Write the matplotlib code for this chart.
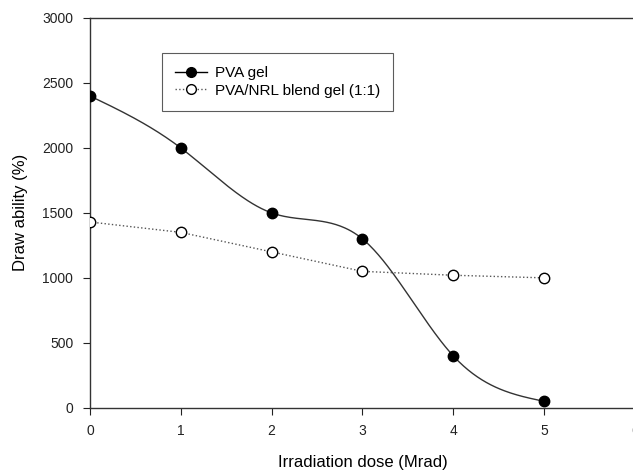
import numpy as np
import matplotlib.pyplot as plt

plt.rcParams['font.family'] = ['Liberation Sans', 'DejaVu Sans']

# Data
dose = [0, 1, 2, 3, 4, 5]
pva_gel = [2400, 2000, 1500, 1300, 400, 50]
blend_gel = [1430, 1350, 1200, 1050, 1020, 1000]


def natural_spline(x, y, n=300):
    # natural cubic spline through the points, for the smooth curve
    x = np.asarray(x, float)
    y = np.asarray(y, float)
    k = len(x)
    h = np.diff(x)
    A = np.zeros((k, k))
    b = np.zeros(k)
    A[0, 0] = A[-1, -1] = 1
    for i in range(1, k - 1):
        A[i, i - 1] = h[i - 1]
        A[i, i] = 2 * (h[i - 1] + h[i])
        A[i, i + 1] = h[i]
        b[i] = 6 * ((y[i + 1] - y[i]) / h[i] - (y[i] - y[i - 1]) / h[i - 1])
    m = np.linalg.solve(A, b)
    xs = np.linspace(x[0], x[-1], n)
    idx = np.clip(np.searchsorted(x, xs) - 1, 0, k - 2)
    x0, x1 = x[idx], x[idx + 1]
    hh = x1 - x0
    t0, t1 = x1 - xs, xs - x0
    ys = (m[idx] * t0**3 + m[idx + 1] * t1**3) / (6 * hh) \
        + (y[idx] / hh - m[idx] * hh / 6) * t0 \
        + (y[idx + 1] / hh - m[idx + 1] * hh / 6) * t1
    return xs, ys


fig = plt.figure(figsize=(6.33, 4.72), dpi=100)
ax = fig.add_axes([0.142, 0.136, 0.861, 0.826])

xs, ys = natural_spline(dose, pva_gel)
ax.plot(xs, ys, color='#333333', lw=1.0, zorder=2)
ax.plot(dose, pva_gel, 'o', color='black', ms=7.5, zorder=3)
ax.plot(dose, blend_gel, ':', color='#555555', lw=1.0, zorder=2)
ax.plot(dose, blend_gel, 'o', mfc='white', mec='black', mew=1.0, ms=7.5, zorder=3)

# legend handles
h1, = ax.plot([], [], '-o', color='black', lw=1.0, ms=7, label='PVA gel')
h2, = ax.plot([], [], ':o', color='#555555', lw=1.0, ms=7, mfc='white',
              mec='black', label='PVA/NRL blend gel (1:1)')
leg = ax.legend(handles=[h1, h2], loc='upper left', bbox_to_anchor=(0.132, 0.91),
                borderaxespad=0, fontsize=11, frameon=True, fancybox=False,
                edgecolor='#333333', handlelength=2.1, handletextpad=0.5,
                borderpad=0.85, labelspacing=0.25)
leg.get_frame().set_linewidth(0.8)

ax.set_xlim(0, 6)
ax.set_ylim(0, 3000)
ax.set_xticks([0, 1, 2, 3, 4, 5, 6])
ax.set_yticks([0, 500, 1000, 1500, 2000, 2500, 3000])
ax.tick_params(direction='out', length=5, width=0.8, labelsize=10, colors='#222222', pad=7)
for s in ax.spines.values():
    s.set_linewidth(1.0)
    s.set_color('#333333')

ax.set_xlabel('Irradiation dose (Mrad)', fontsize=12, labelpad=12)
ax.set_ylabel('Draw ability (%)', fontsize=12, labelpad=10)

fig.savefig('out.png', dpi=100)
